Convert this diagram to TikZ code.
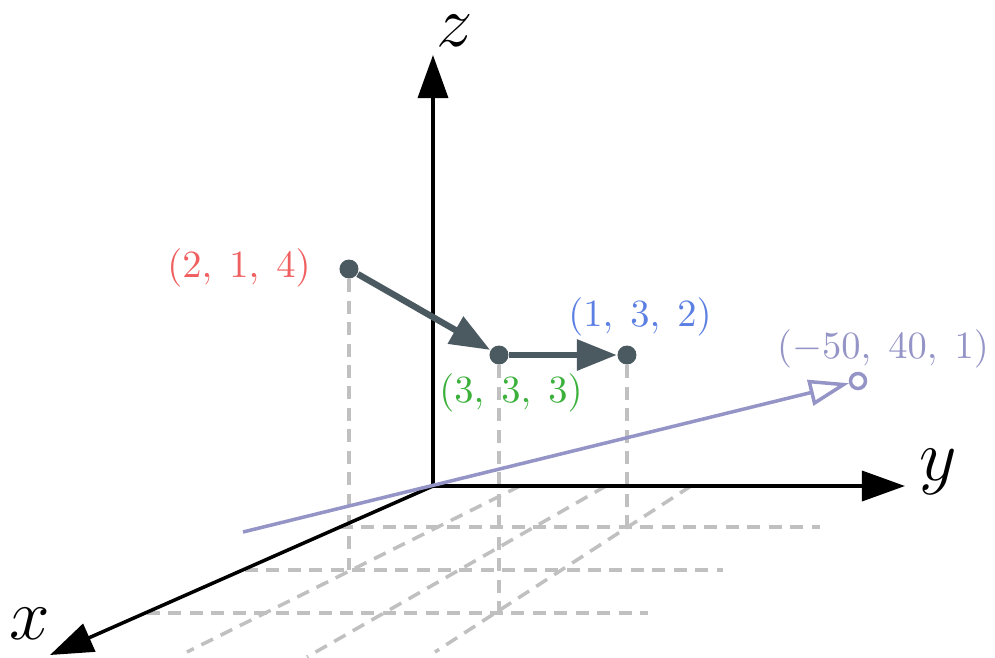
\documentclass[tikz,border=0pt]{standalone}
\usepackage{amsmath,amssymb}
\usepackage{tikz}
\usetikzlibrary{arrows.meta}
\usepackage{xcolor}

\definecolor{slate}{HTML}{4B5A60}
\definecolor{ptred}{HTML}{F05F5F}
\definecolor{ptblue}{HTML}{5B7FE3}
\definecolor{ptgreen}{HTML}{3BB03B}
\definecolor{ptpurple}{HTML}{9494C6}
\definecolor{gridgray}{HTML}{C0C0C0}

\begin{document}
\begin{tikzpicture}[>={Triangle[length=4.3mm,width=3mm]},font=\fontsize{10.5}{13}\selectfont,line cap=butt,
  floor/.style={gridgray,line width=1pt,dash pattern=on 3.7pt off 2.4pt},
  dot/.style={circle,fill=slate,inner sep=0pt,minimum size=0.19cm},
  move/.style={slate,line width=1.8pt,-{Triangle[length=4mm,width=3mm]}},
  axislab/.style={inner sep=0pt,font=\fontsize{21}{24}\selectfont}]
\useasboundingbox (-4.33,-1.71) rectangle (5.62,4.86);
% floor grid
\draw[floor] (-0.93,-0.41) -- (3.87,-0.41);
\draw[floor] (-1.88,-0.84) -- (2.90,-0.84);
\draw[floor] (-2.86,-1.27) -- (2.15,-1.27);
\draw[floor] (0.87,0) -- (-2.46,-1.66);
\draw[floor] (1.73,0) -- (-1.26,-1.71);
\draw[floor] (2.58,0) -- (0.02,-1.66);
% points
\node[dot] (A) at (-0.84,2.17) {};
\node[dot] (B) at (0.66,1.31) {};
\node[dot] (C) at (1.94,1.31) {};
\coordinate (Af) at (-0.84,-0.84);
\coordinate (Bf) at (0.66,-1.27);
\coordinate (Cf) at (1.94,-0.41);
\draw[floor] (A) -- (Af);
\draw[floor] (B) -- (Bf);
\draw[floor] (C) -- (Cf);
% axes
\coordinate (O) at (0,0);
\draw[line width=1pt,->] (O) -- (0,4.31) coordinate (zend);
\draw[line width=1pt,->] (O) -- (4.72,0) coordinate (yend);
\draw[line width=1pt,->] (O) -- (-3.83,-1.69) coordinate (xend);
\node[axislab] (zlab) at (0.22,4.55) {$z$};
\node[axislab] (ylab) at (5.05,0.14) {$y$};
\node[axislab] (xlab) at (-4.03,-1.38) {$x$};
% far point
\coordinate (Q) at (-1.90,-0.46);
\node[circle,draw=ptpurple,line width=1pt,inner sep=0pt,minimum size=0.15cm] (P) at (4.25,1.05) {};
\draw[ptpurple,line width=1pt,-{Triangle[open,length=4mm,width=2.6mm]}] (Q) -- (P);
% moves
\draw[move] (A) -- (B);
\draw[move] (B) -- (C);
% labels
\node[ptred,anchor=east] (Alab) at (-1.10,2.18) {$(2,\;1,\;4)$};
\node[ptblue] (Clab) at (2.07,1.69) {$(1,\;3,\;2)$};
\node[ptgreen] (Blab) at (0.78,0.93) {$(3,\;3,\;3)$};
\node[ptpurple] (Plab) at (4.50,1.37) {$(-50,\;40,\;1)$};
\end{tikzpicture}
\end{document}
